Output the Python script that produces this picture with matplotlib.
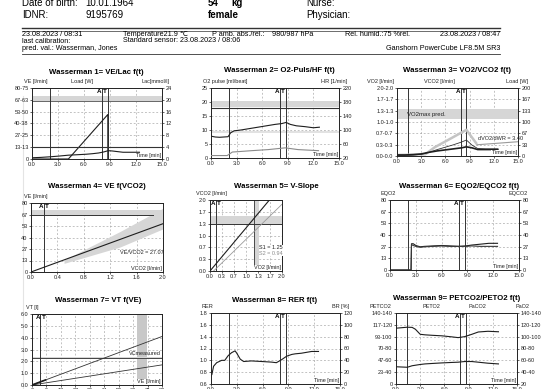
import matplotlib
matplotlib.use('Agg')
import matplotlib.pyplot as plt
from matplotlib.lines import Line2D

plt.rcParams['font.family'] = ['Liberation Sans', 'DejaVu Sans']

# ---- data ----
time_ticks = [0, 3, 6, 9, 12, 15]
time_labels = ['0.0', '3.0', '6.0', '9.0', '12.0', '15.0']

# Wasserman 1
t_ve1 = [0, 1, 2.1, 3, 4.2, 5.2, 6.3, 7.0, 7.7, 8.3, 8.8, 9.3, 9.8, 10.5, 11.5, 12.4]
ve1 = [1.4, 1.8, 2.5, 3.2, 4.3, 4.8, 5.4, 6.0, 6.8, 8.0, 9.4, 9.0, 8.4, 7.6, 7.6, 7.6]
t_load1 = [0, 4.2, 8.75, 8.75]
load1 = [0, 0, 47, 0]
lac_thr = 4
ve_band1 = (64, 71)
ve_pred1 = 65
w1_left = ['0', '13-13', '27-25', '40-38', '53-50', '67-63', '80-75']
w1_right = ['0', '4', '8', '12', '16', '20', '24']

# Wasserman 2
t_o2p = [0, 0.5, 1.0, 1.5, 2.0, 2.3, 2.7, 3.5, 4.5, 5.5, 6.5, 7.5, 8.3, 8.8, 9.3, 10.0, 11.0, 12.0, 12.7]
o2pulse = [7.8, 7.5, 7.4, 7.5, 7.6, 9.0, 9.7, 10.0, 10.5, 11.0, 11.5, 12.0, 12.3, 12.7, 12.0, 11.5, 11.2, 10.8, 11.0]
t_hr = [0, 1.9, 2.5, 4.8, 6.7, 8.7, 10.2, 12.6]
hr2 = [27, 27, 37, 41, 44, 49, 44, 41]
o2p_band = (18.2, 20.2)
o2p_pred = 18.0
o2p_band_low = (8.9, 9.6)
w2_left = ['0', '5', '10', '15', '20', '25']
w2_right = ['20', '60', '100', '140', '180', '220']

# Wasserman 3
t3 = [0, 1, 2, 3, 4, 5, 6, 7, 8, 8.6, 9.3, 10.0, 11.0, 12.0, 12.5]
vo2_3 = [0.03, 0.03, 0.04, 0.06, 0.11, 0.15, 0.18, 0.21, 0.24, 0.27, 0.24, 0.19, 0.19, 0.19, 0.19]
vco2_3 = [0.02, 0.02, 0.03, 0.05, 0.11, 0.19, 0.26, 0.33, 0.41, 0.47, 0.32, 0.22, 0.21, 0.21, 0.21]
t_pred3 = [0, 2, 3.5, 4.7, 6.4, 8.6, 9.9]
vo2_pred3 = [0.03, 0.04, 0.05, 0.26, 0.48, 0.77, 0.35]
t_slope3 = [9.9, 15]
vo2_slope3 = [0.33, 0.42]
vo2max_band = (1.1, 1.37)
w3_left = ['0.0-0.0', '0.3-0.3', '0.7-0.7', '1.0-1.0', '1.3-1.3', '1.7-1.7', '2.0-2.0']
w3_right = ['0', '33', '67', '100', '133', '167', '200']

# Wasserman 4
vco2_fit4 = [0.0, 2.0]
ve_fit4 = [0.0, 56.0]
wedge_x4 = [0.5, 1.35, 2.0]
wedge_lo4 = [10, 29, 50]
wedge_hi4 = [14, 47, 74]
ve_band4 = (66, 72)
ve_pred4 = 66.5
at_vco2 = 0.2
w4_x = ['0.0', '0.4', '0.8', '1.2', '1.6', '2.0']
ve_labels = ['0', '13', '27', '40', '53', '67', '80']

# Wasserman 5
s1_vo2 = [0.0, 1.65]
s1_vco2 = [0.0, 2.0]
s2_vo2 = [0.1, 2.0]
s2_vco2 = [0.0, 1.88]
at_vo2 = 0.17
vo2_band5 = (1.22, 1.35)
vco2_band5 = (1.33, 1.55)
w5_labels = ['0.0', '0.3', '0.7', '1.0', '1.3', '1.7', '2.0']

# Wasserman 6
t6 = [0, 2.45, 2.5, 2.7, 3.0, 3.5, 4.0, 5.0, 6.0, 7.0, 8.0, 8.8, 9.5, 10.5, 11.5, 12.5]
eqo2 = [0, 0, 30, 30, 28, 26.5, 27, 27.5, 28, 27.5, 27, 27.5, 28.5, 29.5, 30.5, 30.5]
eqco2 = [0, 0, 29, 28, 27, 26, 26.5, 27, 27.5, 27, 27, 27, 27.5, 27, 27, 27]

# Wasserman 7
ve7 = [0, 80]
vt7_a = [0, 4.1]
vt7_b = [0, 1.7]
ve7_ex = [0, 8.2]
vt7_ex = [0, 0.42]
at_ve = 5.1
ve_band7 = (64.4, 70.6)
vc_band7 = (2.2, 2.4)
vc_meas = 2.3
w7_x = ['0', '9', '18', '27', '36', '44', '53', '62', '71', '80']
w7_y = ['0.0', '1.0', '2.0', '3.0', '4.0', '5.0', '6.0']

# Wasserman 8
t8 = [0.1, 0.3, 0.66, 1.24, 1.6, 2.0, 2.4, 2.8, 3.0, 3.4, 3.8, 4.7, 5.9, 7.05, 7.6, 8.2, 8.8, 9.4, 9.8, 10.5, 11.7, 12.5]
rer8 = [0.76, 0.90, 0.96, 1.0, 1.0, 1.08, 1.13, 1.16, 1.12, 1.02, 0.98, 0.99, 0.98, 0.97, 0.96, 1.01, 1.07, 1.1, 1.11, 1.12, 1.15, 1.15]
w8_left = ['0.6', '0.8', '1.0', '1.2', '1.4', '1.6', '1.8']
w8_right = ['0', '20', '40', '60', '80', '100', '120']

# Wasserman 9
t9 = [0, 1.4, 2.0, 2.4, 3.0, 3.6, 4.5, 5.7, 6.9, 7.7, 8.5, 9.4, 10.2, 11.4, 12.7]
peto2 = [114.3, 116, 115.7, 112.6, 104, 103.1, 102.3, 101.4, 99.7, 98.4, 100, 104, 107.9, 109.1, 108.3]
petco2 = [34, 33, 36, 37, 38.5, 39.6, 40.5, 41.6, 42.5, 43, 44.3, 44.3, 43, 41, 39.6]
w9_left = ['0', '23-40', '47-60', '70-80', '93-100', '117-120', '140-140']
w9_right = ['20', '40-40', '60-60', '80-80', '100-100', '120-120', '140-140']

# markers in time
warm_a = 2.1      # vertical line (panels 1,2,6,8)
warm_b = 1.4      # vertical line (panels 3,9)
at_a, at_t = 8.05, 8.75

DARK = '#1e1e1e'
BAND = '#d6d6d6'

W, H = 553, 389
fig = plt.figure(figsize=(W / 100, H / 100), dpi=100)


def box(l, t, r, b):
    return fig.add_axes([l / W, 1 - b / H, (r - l) / W, (b - t) / H])


def ftext(x, y, s, **kw):
    kw.setdefault('va', 'center')
    fig.text(x / W, 1 - y / H, s, **kw)


def hline(x0, x1, y, lw):
    fig.add_artist(Line2D([x0 / W, x1 / W], [1 - y / H] * 2, lw=lw, color='#333333'))


def panel(pos, xlim, xticks, xlabels, ylim, nt, ylabels):
    ax = box(*pos)
    ax.set_xlim(xlim)
    ax.set_ylim(ylim)
    ax.set_xticks(xticks, xlabels)
    step = (ylim[1] - ylim[0]) / nt
    ax.set_yticks([ylim[0] + i * step for i in range(nt + 1)], ylabels)
    ax.tick_params(labelsize=4, length=1.5, width=0.5, pad=1, colors='#222222')
    ax.grid(True, color='#a0a0a0', lw=0.45, ls=(0, (3, 3)))
    ax.set_axisbelow(True)
    for s in ax.spines.values():
        s.set_linewidth(0.7)
        s.set_color('#222222')
    return ax


def right(ax, ylim, nt, labels):
    r = ax.twinx()
    r.set_ylim(ylim)
    step = (ylim[1] - ylim[0]) / nt
    r.set_yticks([ylim[0] + i * step for i in range(nt + 1)], labels)
    r.tick_params(labelsize=4, length=1.5, width=0.5, pad=1, colors='#222222')
    for s in r.spines.values():
        s.set_visible(False)
    return r


def ghost(ax, ylim):
    g = ax.twinx()
    g.set_ylim(ylim)
    g.axis('off')
    return g


def toplabels(ax, items):
    for x, s, ha in items:
        ax.annotate(s, xy=(x, 1), xycoords='axes fraction', xytext=(0, 2.6),
                    textcoords='offset points', fontsize=4, ha=ha, va='bottom', color='#222222')


def corner(ax, s):
    ax.text(0.99, 0.01, s, transform=ax.transAxes, fontsize=4, ha='right', va='bottom',
            color='#222222', bbox=dict(fc='white', ec='none', pad=0.3))


def at_marks(ax, xs):
    for x in xs:
        ax.axvline(x, color='#333333', lw=0.7)
    ax.annotate('A', xy=(xs[0], 1), xycoords=('data', 'axes fraction'), xytext=(-0.3, -1),
                textcoords='offset points', ha='right', va='top', fontsize=4.5, fontweight='bold')
    ax.annotate('T', xy=(xs[0], 1), xycoords=('data', 'axes fraction'), xytext=(0.8, -1),
                textcoords='offset points', ha='left', va='top', fontsize=4.5, fontweight='bold')


# ---- header ----
fig.add_artist(Line2D([23 / W] * 2, [1 - 96 / H, 0], lw=0.8, color='#e4e4e4', zorder=-5))
ftext(22, 6.5, 'Date of birth:', fontsize=7, va='baseline')
ftext(85, 6.5, '10.01.1964', fontsize=7, va='baseline')
ftext(208, 6.5, '54', fontsize=7, fontweight='bold', va='baseline')
ftext(231, 6.5, 'kg', fontsize=7, fontweight='bold', va='baseline')
ftext(306, 6.5, 'Nurse:', fontsize=7, va='baseline')
ftext(22, 18.5, 'IDNR:', fontsize=7, va='baseline')
ftext(85, 18.5, '9195769', fontsize=7, va='baseline')
ftext(208, 18.5, 'female', fontsize=7, fontweight='bold', va='baseline')
ftext(306, 18.5, 'Physician:', fontsize=7, va='baseline')
hline(22, 500, 28.3, 1.0)
hline(22, 500, 30.5, 0.5)
ftext(22, 34.5, '23.08.2023 / 08:31', fontsize=5.2)
ftext(123, 34.5, 'Temperature21.9 \u2103', fontsize=5.2)
ftext(212, 34.5, 'P amb. abs./rel.:', fontsize=5.2)
ftext(272, 34.5, '980/987 hPa', fontsize=5.2)
ftext(345, 34.5, 'Rel. humid.:75 %rel.', fontsize=5.2)
ftext(500, 34.5, '23.08.2023 / 08:47', fontsize=5.2, ha='right')
ftext(22, 41.5, 'last calibration:', fontsize=5.2)
ftext(123, 40.5, 'Standard sensor: 23.08.2023 / 08:06', fontsize=5.2)
ftext(22, 49, 'pred. val.: Wasserman, Jones', fontsize=5.2)
ftext(500, 48, 'Ganshorn PowerCube LF8.5M SR3', fontsize=5.2, ha='right')
hline(22, 500, 53.5, 0.6)

# ---- titles ----
titles = [(96, 72, 'Wasserman 1= VE/Lac f(t)'), (279, 71, 'Wasserman 2= O2-Puls/HF f(t)'),
          (457, 71, 'Wasserman 3= VO2/VCO2 f(t)'), (97, 187, 'Wasserman 4= VE f(VCO2)'),
          (276, 187, 'Wasserman 5= V-Slope'), (459, 186, 'Wasserman 6= EQO2/EQCO2 f(t)'),
          (98, 300, 'Wasserman 7= VT f(VE)'), (275, 300, 'Wasserman 8= RER f(t)'),
          (457, 299, 'Wasserman 9= PETCO2/PETO2 f(t)')]
for x, y, s in titles:
    ftext(x, y, s, fontsize=5.6, fontweight='bold', ha='center')

# ---- Wasserman 1 ----
ax = panel((32, 88, 162, 159), (0, 15), time_ticks, time_labels, (0, 80), 6, w1_left)
ax.axhspan(*ve_band1, color=BAND, lw=0, zorder=0.6)
ax.axhline(ve_pred1, color='#555555', lw=0.6)
ax.axvline(warm_a, color='#333333', lw=0.7)
at_marks(ax, [at_a, at_t])
ax.plot(t_ve1, ve1, color=DARK, lw=0.8)
g = ghost(ax, (0, 75))
g.plot(t_load1, load1, color=DARK, lw=0.8)
r = right(ax, (0, 24), 6, w1_right)
r.axhline(lac_thr, color='#333333', lw=0.8)
toplabels(ax, [(-0.06, 'VE [l/min]', 'left'), (0.3, 'Load [W]', 'left'), (1.06, 'Lac[mmol/l]', 'right')])
corner(ax, 'Time [min]')

# ---- Wasserman 2 ----
ax = panel((211, 88, 339, 158), (0, 15), time_ticks, time_labels, (0, 25), 5, w2_left)
ax.axhspan(*o2p_band, color=BAND, lw=0, zorder=0.6)
ax.axhspan(*o2p_band_low, color='#e2e2e2', lw=0, zorder=0.6)
ax.axhline(o2p_pred, color='#333333', lw=0.8)
ax.axvline(warm_a, color='#333333', lw=0.7)
at_marks(ax, [at_a, at_t])
ax.plot(t_o2p, o2pulse, color=DARK, lw=0.8)
r = right(ax, (20, 220), 5, w2_right)
r.plot(t_hr, hr2, color='#8a8a8a', lw=0.8)
toplabels(ax, [(-0.06, 'O2 pulse [ml/beat]', 'left'), (1.06, 'HR [1/min]', 'right')])
corner(ax, 'Time [min]')

# ---- Wasserman 3 ----
ax = panel((397, 88, 518, 156), (0, 15), time_ticks, time_labels, (0, 2.0), 6, w3_left)
ax.axhspan(*vo2max_band, color=BAND, lw=0, zorder=0.6)
ax.text(1.3, 1.22, 'VO2max pred.', fontsize=4.3, va='center', color='#222222')
ax.axvline(warm_b, color='#333333', lw=0.7)
at_marks(ax, [at_a - 0.1, at_t - 0.15])
ax.plot(t_pred3, vo2_pred3, color='#c4c4c4', lw=1.8, solid_capstyle='butt')
ax.plot(t_slope3, vo2_slope3, color='#9a9a9a', lw=0.8)
ax.plot(t3, vco2_3, color='#333333', lw=0.6)
ax.plot(t3, vo2_3, color=DARK, lw=1.2)
ax.text(10.0, 0.48, 'dVO2/dWR = 3.40', fontsize=4, color='#222222')
right(ax, (0, 200), 6, w3_right)
toplabels(ax, [(-0.25, 'VO2 [l/min]', 'left'), (0.22, 'VCO2 [l/min]', 'left'), (1.08, 'Load [W]', 'right')])
corner(ax, 'Time [min]')

# ---- Wasserman 4 ----
ax = panel((31, 203, 163, 272), (0, 2.0), [0, 0.4, 0.8, 1.2, 1.6, 2.0], w4_x, (0, 80), 6, ve_labels)
ax.axhspan(*ve_band4, color=BAND, lw=0, zorder=0.6)
ax.plot([0, 1.85], [ve_pred4, ve_pred4], color='#333333', lw=0.7)
ax.fill_between(wedge_x4, wedge_lo4, wedge_hi4, color=BAND, lw=0, zorder=0.7)
at_marks(ax, [at_vco2])
ax.plot(vco2_fit4, ve_fit4, color=DARK, lw=0.8)
ax.text(1.35, 21, 'VE/VCO2 = 27.07', fontsize=4, color='#222222')
toplabels(ax, [(-0.05, 'VE [l/min]', 'left')])
corner(ax, 'VCO2 [l/min]')

# ---- Wasserman 5 ----
ticks5 = [i * 2.0 / 6 for i in range(7)]
ax = panel((210, 200, 282, 271), (0, 2.0), ticks5, w5_labels, (0, 2.0), 6, w5_labels)
ax.axvspan(*vo2_band5, color=BAND, lw=0, zorder=0.6)
ax.axvline(vo2_band5[0], color='#333333', lw=0.6)
ax.axhspan(*vco2_band5, color=BAND, lw=0, zorder=0.6)
ax.axhline(vco2_band5[0], color='#333333', lw=0.7)
at_marks(ax, [at_vo2])
ax.plot(s2_vo2, s2_vco2, color='#9a9a9a', lw=0.6)
ax.plot(s1_vo2, s1_vco2, color=DARK, lw=0.8)
ax.text(1.37, 0.66, 'S1 = 1.25', fontsize=4, color='#222222', va='center',
        bbox=dict(fc='white', ec='none', pad=0.2))
ax.text(1.37, 0.5, 'S2 = 0.94', fontsize=4, color='#8a8a8a', va='center',
        bbox=dict(fc='white', ec='none', pad=0.2))
toplabels(ax, [(-0.2, 'VCO2 [l/min]', 'left')])
corner(ax, 'VO2 [l/min]')

# ---- Wasserman 6 ----
ax = panel((390, 200, 519, 270), (0, 15), time_ticks, time_labels, (0, 80), 6, ve_labels)
ax.axvline(warm_a, color='#333333', lw=0.7)
at_marks(ax, [at_a, at_t])
ax.plot(t6, eqo2, color=DARK, lw=0.8)
ax.plot(t6, eqco2, color='#3a3a3a', lw=0.8)
right(ax, (0, 80), 6, ve_labels)
toplabels(ax, [(-0.07, 'EQO2', 'left'), (1.07, 'EQCO2', 'right')])
corner(ax, 'Time [min]')

# ---- Wasserman 7 ----
ticks7 = [i * 80 / 9 for i in range(10)]
ax = panel((32, 314, 162, 385), (0, 80), ticks7, w7_x, (0, 6.0), 6, w7_y)
ax.axvspan(*ve_band7, color='#c8c8c8', lw=0, zorder=0.6)
ax.axhspan(*vc_band7, color=BAND, lw=0, zorder=0.6)
ax.axhline(vc_meas, color='#444444', lw=0.7)
ax.text(79, 2.45, 'VCmeasured', fontsize=4, ha='right', va='bottom', color='#222222')
at_marks(ax, [at_ve])
ax.plot(ve7, vt7_a, color='#333333', lw=0.6)
ax.plot(ve7, vt7_b, color='#333333', lw=0.6)
ax.plot(ve7_ex, vt7_ex, color=DARK, lw=1.2)
toplabels(ax, [(-0.05, 'VT [l]', 'left')])
corner(ax, 'VE [l/min]')

# ---- Wasserman 8 ----
ax = panel((211, 313, 340, 384), (0, 15), time_ticks, time_labels, (0.6, 1.8), 6, w8_left)
ax.axvline(warm_a, color='#333333', lw=0.7)
at_marks(ax, [at_a, at_t])
ax.plot(t8, rer8, color=DARK, lw=0.8)
right(ax, (0, 120), 6, w8_right)
toplabels(ax, [(-0.07, 'RER', 'left'), (1.07, 'BR [%]', 'right')])
corner(ax, 'Time [min]')

# ---- Wasserman 9 ----
ax = panel((396, 313, 517, 384), (0, 15), time_ticks, time_labels, (0, 140), 6, w9_left)
ax.axvline(warm_b, color='#333333', lw=0.7)
at_marks(ax, [at_a - 0.1, at_t - 0.1])
ax.plot(t9, petco2, color=DARK, lw=0.8)
r = right(ax, (20, 140), 6, w9_right)
r.plot(t9, peto2, color=DARK, lw=0.8)
toplabels(ax, [(-0.22, 'PETCO2', 'left'), (0.22, 'PETO2', 'left'), (0.6, 'PaCO2', 'left'), (1.1, 'PaO2', 'right')])
corner(ax, 'Time [min]')

fig.savefig('out.png', dpi=100, facecolor='white')
